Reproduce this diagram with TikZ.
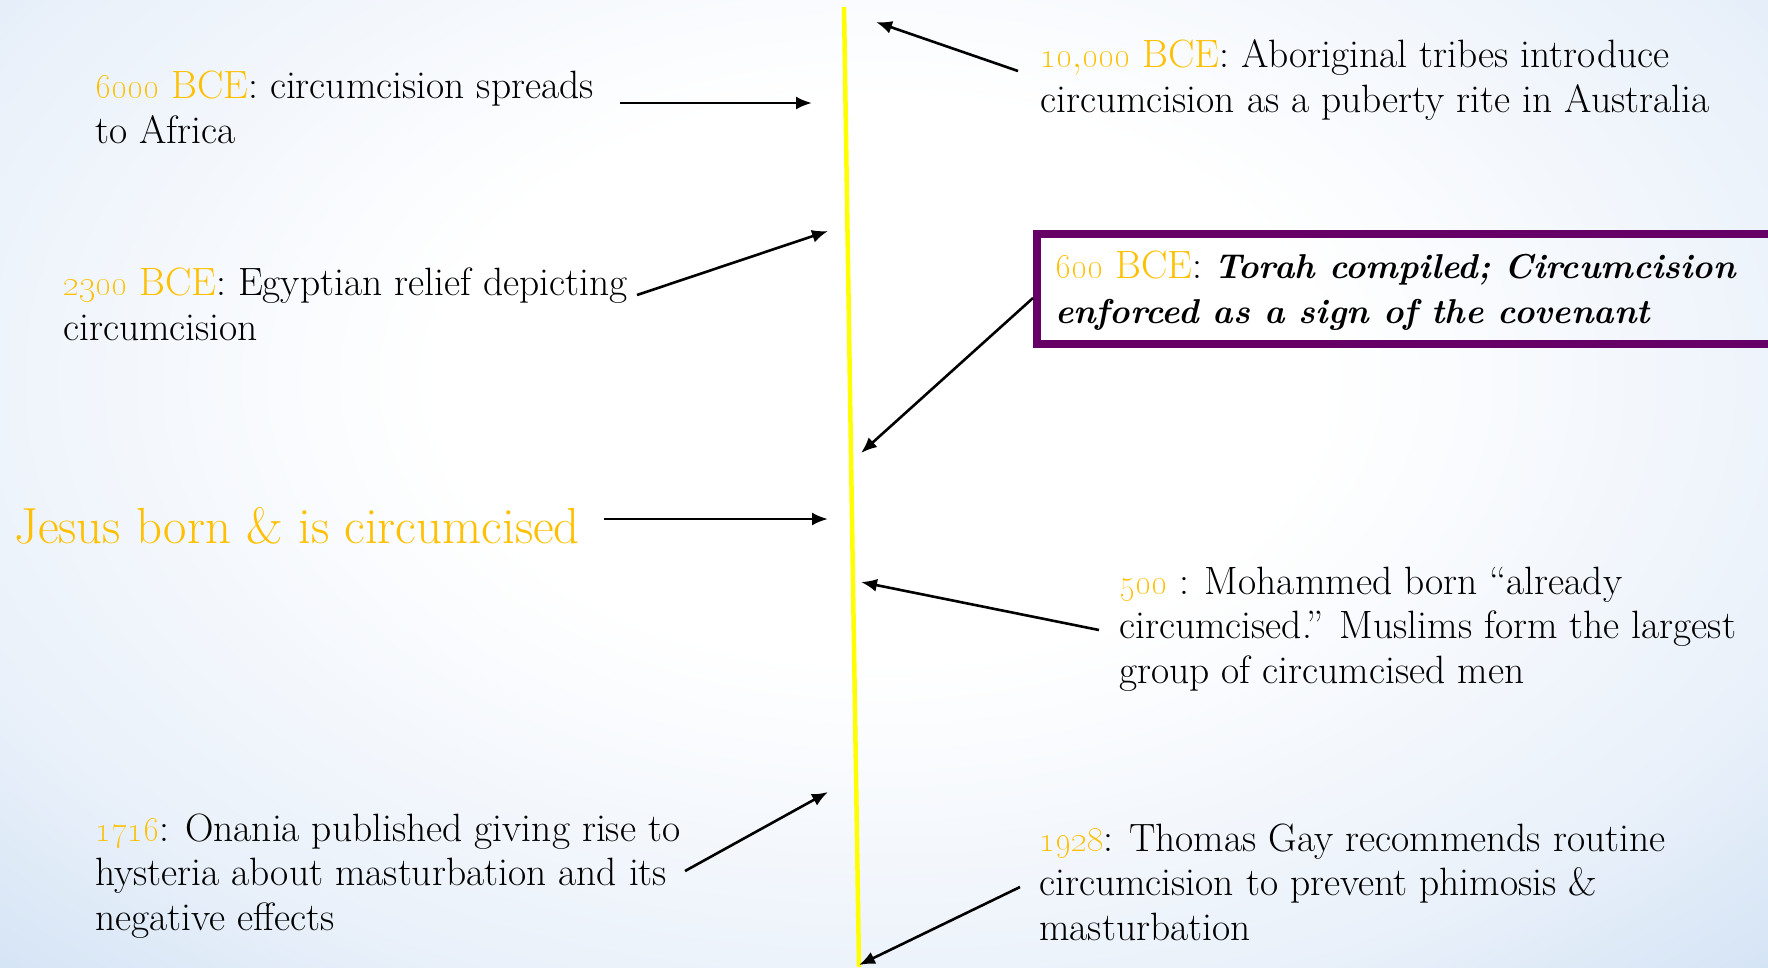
\documentclass[tikz,border=0pt]{standalone}
\usetikzlibrary{arrows.meta}
\definecolor{gold}{RGB}{255,192,0}
\definecolor{tlpurple}{RGB}{102,0,102}
\definecolor{bgblue}{RGB}{213,228,245}
\definecolor{bgmid}{RGB}{234,241,250}
\definecolor{tlyellow}{RGB}{255,255,0}
\pgfdeclareradialshading{bgshade}{\pgfpoint{0bp}{0bp}}{color(0bp)=(white); color(20bp)=(white); color(45bp)=(bgmid); color(58bp)=(bgblue); color(100bp)=(bgblue)}
\newcommand\osn[1]{\oldstylenums{#1}}
\newcommand\yr[1]{\textcolor{gold}{#1}}
\newcommand\bi[1]{{\fontsize{34.5}{44.5}\selectfont\bfseries\itshape #1}}
\begin{document}
\begin{tikzpicture}[x=1pt,y=-1pt,
  txt/.style={anchor=base west, inner sep=0pt, align=left, font=\fontsize{39.5}{44.5}\selectfont, text=black},
  bigtxt/.style={anchor=base west, inner sep=0pt, font=\fontsize{50.8}{56}\selectfont, text=gold},
  conn/.style={-{Latex[length=16pt,width=13pt]}, line width=2.6pt, black},
  timeline/.style={line width=4.5pt, tlyellow},
  purplebox/.style={draw=tlpurple, line width=8pt}]
\useasboundingbox (0,0) rectangle (1768,967);
\begin{scope}
  \clip (0,0) rectangle (1768,967);
  \begin{pgfscope}
    \pgftransformshift{\pgfpointxy{880}{380}}
    \pgftransformxscale{22}
    \pgftransformyscale{14}
    \pgflowlevelsynccm
    \pgfuseshading{bgshade}
  \end{pgfscope}
\end{scope}
% timeline
\coordinate (ytop) at (844,7);
\coordinate (ybot) at (859,967);
\draw[timeline] (ytop) -- (ybot);
% highlighted box
\coordinate (boxNW) at (1037,234);
\coordinate (boxSE) at (1795,344);
\draw[purplebox] (boxNW) rectangle (boxSE);
% texts (anchored at the baseline of their last line)
\node[txt] (t10000) at (1040,112) {\yr{\osn{10},\osn{000} BCE}: Aboriginal tribes introduce\\circumcision as a puberty rite in Australia};
\node[txt] (t6000) at (95,143) {\yr{\osn{6000} BCE}: circumcision spreads\\to Africa};
\node[txt] (t2300) at (63,340) {\yr{\osn{2300} BCE}: Egyptian relief depicting\\circumcision};
\node[txt] (t600) at (1055,323) {\yr{\osn{600} BCE}: \bi{Torah compiled; Circumcision}\\\bi{enforced as a sign of the covenant}};
\node[bigtxt] (tjesus) at (14,543) {Jesus born \& is circumcised};
\node[txt] (t500) at (1119,683) {\yr{\osn{500}} : Mohammed born “already\\circumcised.” Muslims form the largest\\group of circumcised men};
\node[txt] (t1716) at (95,930) {\yr{\osn{1716}}: Onania published giving rise to\\hysteria about masturbation and its\\negative effects};
\node[txt] (t1928) at (1039,940) {\yr{\osn{1928}}: Thomas Gay recommends routine\\circumcision to prevent phimosis \&\\masturbation};
% connector end points
\coordinate (a1s) at (1018,71);  \coordinate (a1e) at (876,22);
\coordinate (a2s) at (620,103);  \coordinate (a2e) at (812,103);
\coordinate (a3s) at (637,295);  \coordinate (a3e) at (828,231);
\coordinate (a4s) at (1033,298); \coordinate (a4e) at (861,453);
\coordinate (a5s) at (604,519);  \coordinate (a5e) at (828,519);
\coordinate (a6s) at (1099,630); \coordinate (a6e) at (861,582);
\coordinate (a7s) at (685,871);  \coordinate (a7e) at (828,792);
\coordinate (a8s) at (1020,887); \coordinate (a8e) at (859,965);
\draw[conn] (a1s) -- (a1e);
\draw[conn] (a2s) -- (a2e);
\draw[conn] (a3s) -- (a3e);
\draw[conn] (a4s) -- (a4e);
\draw[conn] (a5s) -- (a5e);
\draw[conn] (a6s) -- (a6e);
\draw[conn] (a7s) -- (a7e);
\draw[conn] (a8s) -- (a8e);
\end{tikzpicture}
\end{document}
